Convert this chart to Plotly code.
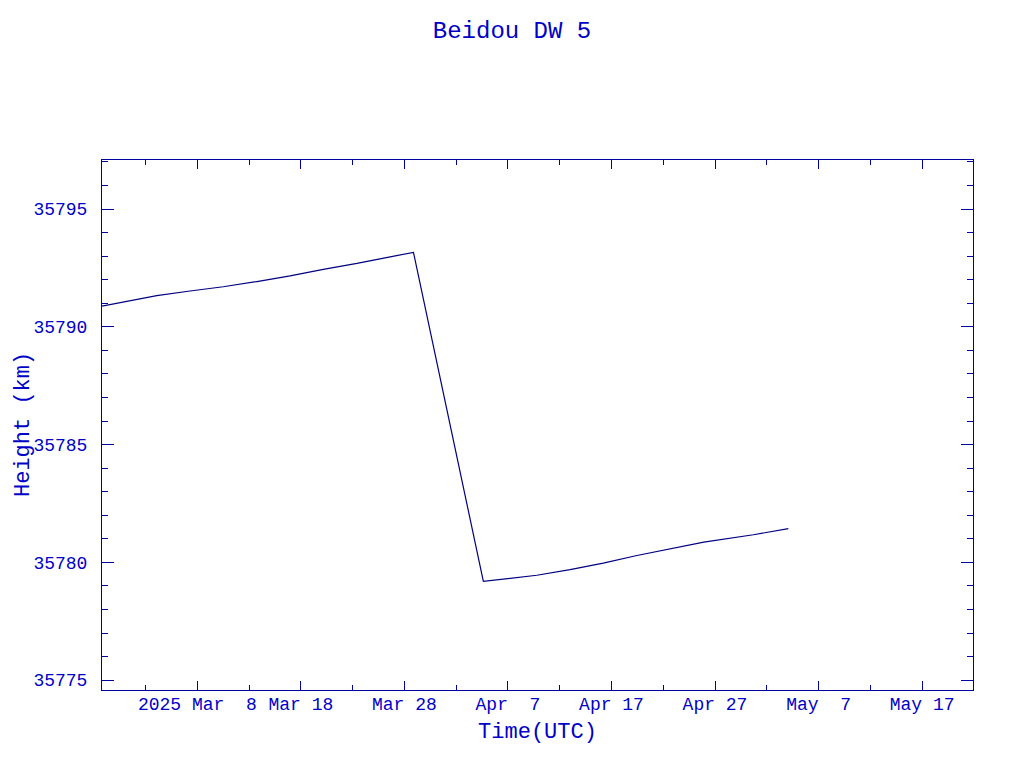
import plotly.graph_objects as go

# Data (time UTC, height km)
times = [
    "2025-02-26 19:00", "2025-02-28 20:00", "2025-03-04 02:00", "2025-03-07 07:00",
    "2025-03-10 12:00", "2025-03-13 18:00", "2025-03-16 23:00", "2025-03-20 04:00",
    "2025-03-23 10:00", "2025-03-26 15:00", "2025-03-28 21:00",
    "2025-04-04 15:00", "2025-04-07 13:00", "2025-04-09 19:00", "2025-04-13 00:00",
    "2025-04-16 05:00", "2025-04-19 11:00", "2025-04-22 17:00", "2025-04-25 22:00",
    "2025-04-30 17:00", "2025-05-04 02:00",
]
heights = [
    35790.88, 35791.04, 35791.32, 35791.52,
    35791.70, 35791.92, 35792.16, 35792.44,
    35792.69, 35792.97, 35793.16,
    35779.19, 35779.33, 35779.45, 35779.69,
    35779.97, 35780.29, 35780.57, 35780.86,
    35781.17, 35781.43,
]

x_tick_vals = ["2025-03-08", "2025-03-18", "2025-03-28", "2025-04-07",
               "2025-04-17", "2025-04-27", "2025-05-07", "2025-05-17"]
x_tick_text = ["2025 Mar  8", "Mar 18", "Mar 28", "Apr  7",
               "Apr 17", "Apr 27", "May  7", "May 17"]
y_tick_vals = [35775, 35780, 35785, 35790, 35795]

x_range = ["2025-02-26 19:00", "2025-05-21 22:00"]
y_range = [35774.58, 35797.08]

TEXT = "#0000c8"
AXIS = "#0000a0"
LINE = "#000080"
FONT = "Liberation Mono"

fig = go.Figure()
fig.add_trace(go.Scatter(x=times, y=heights, mode="lines",
                         line=dict(color=LINE, width=1.2), showlegend=False))

fig.update_layout(
    width=1024, height=768,
    paper_bgcolor="white", plot_bgcolor="white",
    margin=dict(l=94, r=59, t=152, b=86, autoexpand=False),
    title=dict(text="Beidou DW 5", x=0.5 - 8 / 1024, xanchor="center", y=1 - 22 / 768,
               yanchor="middle", font=dict(family=FONT, size=24, color=TEXT)),
    font=dict(family=FONT, color=TEXT),
    annotations=[dict(text="Height (km)", xref="paper", yref="paper", x=0, y=0.5,
                      xshift=-79, xanchor="center", yanchor="middle", textangle=-90,
                      showarrow=False, font=dict(family=FONT, size=22, color=TEXT))],
)

fig.update_xaxes(
    type="date", range=x_range, automargin=False,
    tickmode="array", tickvals=x_tick_vals, ticktext=x_tick_text,
    ticks="inside", ticklen=9, tickwidth=1, tickcolor=AXIS,
    minor=dict(ticks="inside", ticklen=5, tickwidth=1, tickcolor=AXIS, dtick=5 * 86400000,
               tick0="2025-03-03"),
    showline=True, linecolor=AXIS, linewidth=1, mirror="ticks",
    showgrid=False, zeroline=False,
    tickfont=dict(family=FONT, size=18, color=TEXT),
    ticklabelstandoff=-3,
    title=dict(text="Time(UTC)", font=dict(family=FONT, size=22, color=TEXT), standoff=9),
)
fig.update_yaxes(
    range=y_range, automargin=False,
    tickmode="array", tickvals=y_tick_vals, ticktext=[str(v) for v in y_tick_vals],
    ticks="inside", ticklen=12, tickwidth=1, tickcolor=AXIS,
    minor=dict(ticks="inside", ticklen=6, tickwidth=1, tickcolor=AXIS, dtick=1),
    showline=True, linecolor=AXIS, linewidth=1, mirror="ticks",
    showgrid=False, zeroline=False,
    tickfont=dict(family=FONT, size=18, color=TEXT),
    ticklabelstandoff=10,
)

fig.write_html("out.html")
